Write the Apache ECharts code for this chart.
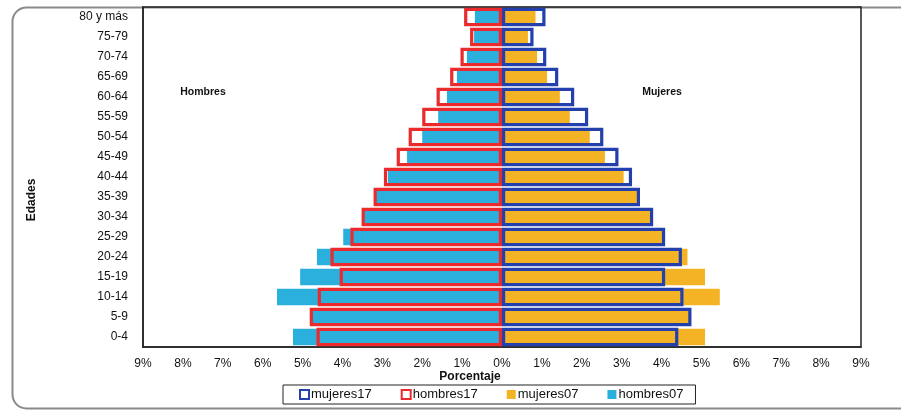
<!DOCTYPE html>
<html>
<head>
<meta charset="utf-8">
<script src="https://cdn.jsdelivr.net/npm/echarts@6/dist/echarts.min.js"></script>
<style>
  html, body { margin: 0; padding: 0; background: #fff; }
  #chart { width: 901px; height: 410px; }
</style>
</head>
<body>
<div id="chart"></div>
<script>
// Age groups, bottom to top
const edades = ['0-4', '5-9', '10-14', '15-19', '20-24', '25-29', '30-34', '35-39', '40-44',
  '45-49', '50-54', '55-59', '60-64', '65-69', '70-74', '75-79', '80 y más'];

// Share of total population (%) per age group
const hombres17 = [4.65, 4.82, 4.62, 4.07, 4.30, 3.80, 3.52, 3.22, 2.96, 2.64, 2.34, 2.00, 1.64, 1.30, 1.04, 0.80, 0.95];
const mujeres17 = [4.42, 4.75, 4.55, 4.09, 4.51, 4.09, 3.79, 3.46, 3.26, 2.92, 2.54, 2.16, 1.81, 1.41, 1.11, 0.79, 1.09];
const hombres07 = [5.24, 4.79, 5.64, 5.06, 4.64, 3.98, 3.48, 3.18, 2.86, 2.38, 2.00, 1.60, 1.38, 1.13, 0.88, 0.70, 0.68];
const mujeres07 = [5.09, 4.71, 5.46, 5.09, 4.65, 4.04, 3.76, 3.43, 3.05, 2.58, 2.20, 1.70, 1.45, 1.13, 0.88, 0.65, 0.84];

const FONT = '"Liberation Sans", Arial, sans-serif';
const C_BLUE = '#2340ad', C_RED = '#ea2a2c', C_YELLOW = '#f4b325', C_CYAN = '#2bb0de';

const chart = echarts.init(document.getElementById('chart'), null, { renderer: 'canvas' });

const neg = arr => arr.map(v => -v);

chart.setOption({
  animation: false,
  backgroundColor: '#fff',
  textStyle: { fontFamily: FONT },
  grid: {
    left: 143, right: 40, top: 7, bottom: 63,
    show: true, borderColor: '#222', borderWidth: 1.5, backgroundColor: 'transparent'
  },
  legend: {
    data: ['mujeres17', 'hombres17', 'mujeres07', 'hombres07'],
    left: 283, top: 385,
    itemWidth: 9, itemHeight: 9, itemGap: 29,
    icon: 'rect',
    borderColor: '#222', borderWidth: 1,
    padding: [3, 12, 3, 16],
    textStyle: { fontFamily: FONT, fontSize: 13, color: '#111', padding: [0, 0, 0, -3] }
  },
  xAxis: {
    type: 'value', min: -9, max: 9, interval: 1,
    axisLine: { show: true, lineStyle: { color: '#222', width: 1.5 } },
    axisTick: { show: false },
    splitLine: { show: false },
    axisLabel: {
      fontFamily: FONT, fontSize: 12, color: '#111', margin: 11,
      formatter: v => Math.abs(v) + '%'
    }
  },
  yAxis: [
    {
      type: 'category', data: edades,
      axisLine: { show: true, onZero: false, lineStyle: { color: '#222', width: 1.5 } },
      axisTick: { show: false },
      axisLabel: { fontFamily: FONT, fontSize: 12, color: '#111', margin: 15 }
    },
    {
      type: 'category', data: edades, position: 'left', show: false
    }
  ],
  series: [
    // 2007: filled bars underneath
    {
      name: 'mujeres07', type: 'bar', yAxisIndex: 0, data: mujeres07,
      barWidth: 16.5, barGap: '-100%',
      itemStyle: { color: C_YELLOW }
    },
    {
      name: 'hombres07', type: 'bar', yAxisIndex: 0, data: neg(hombres07),
      barWidth: 16.5, barGap: '-100%',
      itemStyle: { color: C_CYAN }
    },
    // 2017: outlined bars on top
    {
      name: 'mujeres17', type: 'bar', yAxisIndex: 1, data: mujeres17,
      barWidth: 18.5, barGap: '-100%',
      itemStyle: { color: 'rgba(255,255,255,0)', borderColor: C_BLUE, borderWidth: 3.2 }
    },
    {
      name: 'hombres17', type: 'bar', yAxisIndex: 1, data: neg(hombres17),
      barWidth: 18.5, barGap: '-100%',
      itemStyle: { color: 'rgba(255,255,255,0)', borderColor: C_RED, borderWidth: 3.2 }
    }
  ],
  graphic: [
    {
      type: 'rect', left: 10, top: 5, z: -10, silent: true,
      shape: { width: 905, height: 401, r: 14 },
      style: { fill: 'none', stroke: '#8a8a8a', lineWidth: 2 }
    },
    {
      type: 'text', x: 470, y: 371, z: 10,
      style: { text: 'Porcentaje', fontFamily: FONT, fontSize: 12, fontWeight: 'bold', fill: '#111', align: 'center' }
    },
    {
      type: 'text', x: 32, y: 200, rotation: Math.PI / 2, z: 10,
      style: { text: 'Edades', fontFamily: FONT, fontSize: 12, fontWeight: 'bold', fill: '#111', align: 'center', verticalAlign: 'middle' }
    },
    {
      type: 'text', x: 203, y: 92, z: 10,
      style: { text: 'Hombres', fontFamily: FONT, fontSize: 10.5, fontWeight: 'bold', fill: '#111', align: 'center', verticalAlign: 'middle' }
    },
    {
      type: 'text', x: 662, y: 92, z: 10,
      style: { text: 'Mujeres', fontFamily: FONT, fontSize: 10.5, fontWeight: 'bold', fill: '#111', align: 'center', verticalAlign: 'middle' }
    }
  ]
});
</script>
</body>
</html>
